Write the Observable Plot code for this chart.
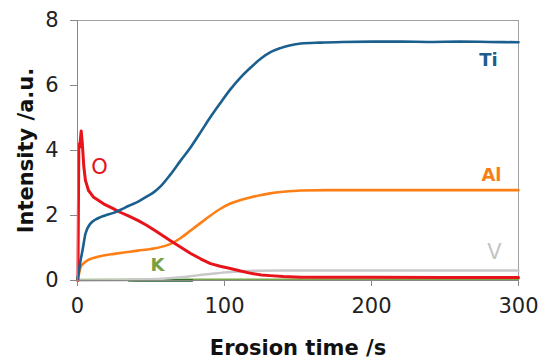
<!DOCTYPE html>
<html>
<head>
<meta charset="utf-8">
<script src="https://cdn.jsdelivr.net/npm/d3@7"></script>
<script src="https://cdn.jsdelivr.net/npm/@observablehq/plot@0.6"></script>
<style>
  html, body { margin: 0; padding: 0; background: #fff; }
  #chart svg { display: block; }
</style>
</head>
<body>
<div id="chart"></div>
<script>
// ---- data ----
const xTicks = [0, 100, 200, 300];
const yTicks = [0, 2, 4, 6, 8];

const tiTime  = [0, 1, 2, 3.4, 5.4, 8.8, 12, 15.6, 20, 24.5, 29, 35, 41, 47, 52, 57, 63, 70, 77, 84, 90, 97, 104, 111, 118, 125, 131, 138, 145, 152, 165, 180, 200, 220, 240, 260, 280, 300];
const tiValue = [0.05, 0.3, 0.6, 0.92, 1.44, 1.75, 1.87, 1.95, 2.02, 2.08, 2.17, 2.3, 2.42, 2.58, 2.72, 2.92, 3.25, 3.68, 4.1, 4.58, 5.0, 5.45, 5.88, 6.25, 6.56, 6.84, 7.02, 7.15, 7.24, 7.29, 7.32, 7.34, 7.35, 7.35, 7.34, 7.35, 7.34, 7.33];

const oTime  = [0.3, 0.9, 1.5, 2.5, 3.3, 4.3, 5.4, 7.5, 11, 17.7, 24, 29, 35, 41, 47, 54, 63, 70, 77, 84, 90.5, 97, 104, 111, 118, 125, 131, 140, 152, 170, 200, 250, 300];
const oValue = [0, 4.2, 4.1, 4.6, 4.2, 3.5, 3.08, 2.77, 2.56, 2.36, 2.22, 2.1, 1.98, 1.85, 1.7, 1.5, 1.23, 1.03, 0.83, 0.66, 0.52, 0.44, 0.37, 0.29, 0.22, 0.17, 0.15, 0.12, 0.1, 0.1, 0.1, 0.09, 0.09];

const alTime  = [0, 1, 2, 4, 6.8, 10, 17.7, 25, 33, 41, 50, 58.5, 63, 70, 77, 84, 90.5, 97, 104, 111, 118, 125, 131, 140, 152, 170, 200, 250, 300];
const alValue = [0, 0.2, 0.4, 0.52, 0.62, 0.68, 0.77, 0.82, 0.87, 0.92, 0.97, 1.05, 1.12, 1.3, 1.54, 1.78, 2.0, 2.2, 2.37, 2.48, 2.56, 2.63, 2.68, 2.73, 2.77, 2.78, 2.78, 2.78, 2.78];

const vTime  = [0, 30, 45, 60, 70, 80, 90, 100, 110, 120, 140, 170, 200, 250, 300];
const vValue = [0, 0.01, 0.03, 0.06, 0.1, 0.15, 0.2, 0.25, 0.28, 0.3, 0.31, 0.31, 0.31, 0.31, 0.31];

const kTime  = [0, 50, 100, 140, 200, 250, 300];
const kValue = [0.02, 0.03, 0.03, 0.03, 0.04, 0.04, 0.04];

const kDarkTime  = [35, 78];
const kDarkValue = [0.0, 0.0];

// element labels: bold ones and regular ones
const boldLabelText  = ["Ti", "Al", "K"];
const boldLabelTime  = [279.6, 281.6, 54.4];
const boldLabelValue = [6.77, 3.23, 0.46];
const boldLabelColor = ["#1e5d8c", "#f77f17", "#76a046"];

const plainLabelText  = ["V", "O"];
const plainLabelTime  = [283.7, 15];
const plainLabelValue = [0.86, 3.49];
const plainLabelColor = ["#c4c4c4", "#e3131b"];

// ---- tables built from the arrays ----
const zip = (t, v) => t.map((x, i) => ({t: x, v: v[i]}));
const ti = zip(tiTime, tiValue);
const o = zip(oTime, oValue);
const al = zip(alTime, alValue);
const vv = zip(vTime, vValue);
const k = zip(kTime, kValue);
const kd = zip(kDarkTime, kDarkValue);
const boldLabels = boldLabelText.map((s, i) => ({s, t: boldLabelTime[i], v: boldLabelValue[i], c: boldLabelColor[i]}));
const plainLabels = plainLabelText.map((s, i) => ({s, t: plainLabelTime[i], v: plainLabelValue[i], c: plainLabelColor[i]}));

const FONT = "DejaVu Sans, Liberation Sans, Arial, sans-serif";

const chart = Plot.plot({
  width: 539,
  height: 363,
  marginLeft: 77,
  marginRight: 21,
  marginTop: 20,
  marginBottom: 83,
  style: {fontFamily: FONT, background: "#fff", color: "#222"},
  x: {domain: [0, 300]},
  y: {domain: [0, 8]},
  marks: [
    Plot.frame({stroke: "#a0a0a0", strokeWidth: 1}),
    Plot.line(k, {x: "t", y: "v", stroke: "#78a84a", strokeWidth: 2}),
    Plot.line(kd, {x: "t", y: "v", stroke: "#1f5e1f", strokeWidth: 2.5}),
    Plot.line(vv, {x: "t", y: "v", stroke: "#c8c8c8", strokeWidth: 2.5, curve: "monotone-x"}),
    Plot.line(al, {x: "t", y: "v", stroke: "#fd7f16", strokeWidth: 2.6, curve: "monotone-x"}),
    Plot.line(o, {x: "t", y: "v", stroke: "#e8141c", strokeWidth: 3, curve: "linear"}),
    Plot.line(ti, {x: "t", y: "v", stroke: "#1b5f8e", strokeWidth: 2.6, curve: "monotone-x"}),
    Plot.axisX({ticks: xTicks, tickSize: 6, tickPadding: 12, fontSize: 21, stroke: "#888", color: "#222", label: null}),
    Plot.axisY({ticks: yTicks, tickSize: 7, tickPadding: 12, fontSize: 21, stroke: "#888", color: "#222", label: null}),
    Plot.ruleX([0], {stroke: "#888"}),
    Plot.ruleY([0], {stroke: "#888"}),
    Plot.text(boldLabels, {x: "t", y: "v", text: "s", fill: "c", fontWeight: "bold", fontSize: 18}),
    Plot.text(plainLabels, {x: "t", y: "v", text: "s", fill: "c", fontSize: 21}),
    Plot.text(["Erosion time /s"], {frameAnchor: "bottom", dy: 68, lineAnchor: "middle", textAnchor: "middle", fontSize: 21, fontWeight: "bold", fill: "#111"}),
    Plot.text(["Intensity /a.u."], {frameAnchor: "left", dx: -51, rotate: -90, lineAnchor: "middle", textAnchor: "middle", fontSize: 21, fontWeight: "bold", fill: "#111"})
  ]
});
document.getElementById("chart").appendChild(chart);
</script>
</body>
</html>
